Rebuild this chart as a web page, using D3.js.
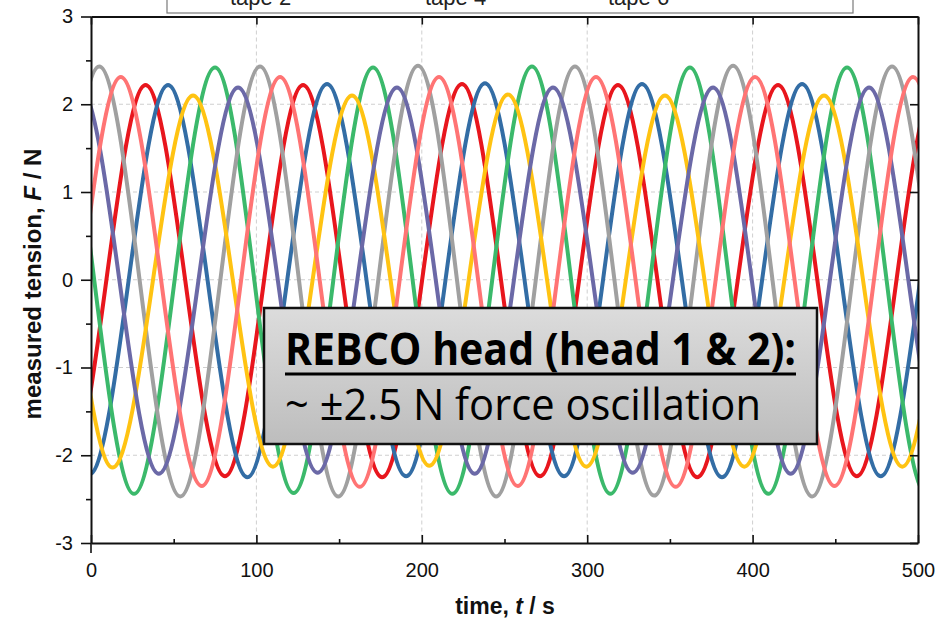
<!DOCTYPE html>
<html>
<head>
<meta charset="utf-8">
<script src="https://cdn.jsdelivr.net/npm/d3@7"></script>
<style>
  body { margin: 0; background: #fff; }
  svg { display: block; font-family: "Liberation Sans", Arial, sans-serif; }
</style>
</head>
<body>
<div id="chart"></div>
<script>
// extrema (time s, force N), alternating peak / trough
var tape1 = [[-62, 2.22], [-14.5, -2.24], [33, 2.22], [81, -2.24], [128.2, 2.22], [176, -2.25], [224.3, 2.23], [271.5, -2.24], [318.6, 2.22], [366.5, -2.25], [415.4, 2.22], [463, -2.24], [510.9, 2.22], [558.5, -2.24]];
var tape2 = [[-48.5, 2.22], [-1, -2.22], [46.6, 2.22], [94.5, -2.25], [142.7, 2.23], [190.5, -2.24], [238.2, 2.24], [286, -2.24], [333.1, 2.23], [381.5, -2.25], [429.9, 2.23], [477.5, -2.24], [525, 2.22], [573, -2.24]];
var tape3 = [[-70, -2.44], [-22, 2.42], [26, -2.44], [75, 2.42], [122.5, -2.43], [170.5, 2.42], [218.5, -2.44], [266.6, 2.43], [314, -2.44], [362.1, 2.42], [409.5, -2.44], [457.1, 2.42], [505, -2.44], [552.5, 2.42], [600, -2.44]];
var tape4 = [[-91, 2.43], [-43, -2.46], [5, 2.43], [54, -2.47], [102.2, 2.43], [149.5, -2.47], [197.7, 2.44], [245, -2.47], [292.6, 2.43], [340.5, -2.46], [388.2, 2.44], [436, -2.47], [484.3, 2.43], [532, -2.46], [580, 2.43]];
var tape5 = [[-81, -2.13], [-34, 2.1], [13, -2.14], [61.7, 2.1], [110, -2.13], [157.8, 2.1], [204.5, -2.12], [252.1, 2.11], [299.5, -2.13], [347, 2.1], [395, -2.13], [443.2, 2.1], [490.5, -2.13], [538, 2.1], [586, -2.13]];
var tape6 = [[-54, -2.2], [-6.6, 2.19], [41, -2.21], [88.9, 2.19], [137, -2.2], [185, 2.19], [232, -2.21], [279.3, 2.19], [327.5, -2.2], [376.1, 2.19], [423, -2.21], [470.4, 2.19], [518, -2.2], [566, 2.19]];
var tape7 = [[-78, 2.31], [-30, -2.35], [18, 2.31], [67, -2.35], [114.3, 2.31], [162.5, -2.36], [210.4, 2.31], [258, -2.35], [305.3, 2.31], [353.5, -2.36], [401.5, 2.31], [449.5, -2.35], [497, 2.31], [545, -2.35], [592, 2.31]];

var tapeNames = ["tape 1", "tape 2", "tape 3", "tape 4", "tape 5", "tape 6", "tape 7"];
var tapeColors = ["#e8161d", "#336da5", "#3bb96b", "#a0a0a0", "#ffc312", "#6b69a7", "#ff7474"];
var xTicks = [0, 100, 200, 300, 400, 500];
var yTicks = [-3, -2, -1, 0, 1, 2, 3];

function init() {
  var w = 945, h = 623;
  var left = 91, right = 918, top = 16.5, bottom = 543;
  var series = [tape1, tape2, tape3, tape4, tape5, tape6, tape7];

  var x = d3.scaleLinear().domain([0, 500]).range([left, right]);
  var y = d3.scaleLinear().domain([-3, 3]).range([bottom, top]);

  var svg = d3.select("#chart").append("svg")
    .attr("width", w)
    .attr("height", h);

  var defs = svg.append("defs");
  defs.append("clipPath").attr("id", "plot")
    .append("rect")
    .attr("x", left).attr("y", top)
    .attr("width", right - left).attr("height", bottom - top);
  var grad = defs.append("linearGradient").attr("id", "boxfill")
    .attr("x1", 0).attr("y1", 0).attr("x2", 0).attr("y2", 1);
  grad.append("stop").attr("offset", "0%").attr("stop-color", "#dcdcdc");
  grad.append("stop").attr("offset", "100%").attr("stop-color", "#bdbdbd");

  // grid
  svg.append("g").selectAll("line")
    .data(xTicks.slice(1, -1))
    .enter().append("line")
    .attr("x1", function(d) { return x(d); })
    .attr("x2", function(d) { return x(d); })
    .attr("y1", top).attr("y2", bottom)
    .attr("stroke", "#cfcfcf").attr("stroke-dasharray", "4,3");
  svg.append("g").selectAll("line")
    .data(yTicks.slice(1, -1))
    .enter().append("line")
    .attr("y1", function(d) { return y(d); })
    .attr("y2", function(d) { return y(d); })
    .attr("x1", left).attr("x2", right)
    .attr("stroke", "#cfcfcf").attr("stroke-dasharray", "4,3");

  // traces
  var line = d3.line()
    .x(function(d) { return x(d[0]); })
    .y(function(d) { return y(d[1]); })
    .curve(d3.curveMonotoneX);

  svg.append("g").attr("clip-path", "url(#plot)")
    .selectAll("path")
    .data(series)
    .enter().append("path")
    .attr("d", line)
    .attr("fill", "none")
    .attr("stroke", function(d, i) { return tapeColors[i]; })
    .attr("stroke-width", 4)
    .attr("stroke-linejoin", "round");

  // axes
  var fmt = function(d) { return String(d); };
  svg.append("g").attr("transform", "translate(" + left + ",0)")
    .call(d3.axisLeft(y).tickValues(yTicks).tickSize(10).tickSizeOuter(0).tickPadding(8).tickFormat(fmt));
  svg.append("g").attr("transform", "translate(" + left + ",0)")
    .call(d3.axisLeft(y).tickValues([-2.5, -1.5, -0.5, 0.5, 1.5, 2.5]).tickSize(5).tickFormat(""))
    .select(".domain").remove();

  svg.append("g").attr("transform", "translate(0," + bottom + ")")
    .call(d3.axisBottom(x).tickValues(xTicks).tickSizeInner(-8).tickSizeOuter(0).tickPadding(20).tickFormat(fmt));
  svg.append("g").attr("transform", "translate(0," + bottom + ")")
    .call(d3.axisBottom(x).tickValues([50, 150, 250, 350, 450]).tickSize(-4).tickFormat(""))
    .select(".domain").remove();

  svg.append("g").attr("transform", "translate(0," + top + ")")
    .call(d3.axisTop(x).tickValues(xTicks).tickSizeInner(-8).tickSizeOuter(0).tickFormat(""));
  svg.append("g").attr("transform", "translate(" + right + ",0)")
    .call(d3.axisRight(y).tickValues(yTicks).tickSizeInner(-8).tickSizeOuter(0).tickFormat(""));

  svg.selectAll(".domain").attr("stroke", "#111").attr("stroke-width", 2);
  svg.selectAll(".tick line").attr("stroke", "#111").attr("stroke-width", 1.6);
  svg.selectAll(".tick text").attr("font-size", 20).attr("fill", "#111")
    .attr("font-family", "'Liberation Sans', Arial, sans-serif");
  // short stub of the left spine below the frame
  svg.append("line").attr("x1", left).attr("x2", left)
    .attr("y1", bottom).attr("y2", bottom + 10)
    .attr("stroke", "#111").attr("stroke-width", 1.6);

  // axis titles
  var xt = svg.append("text")
    .attr("x", 505).attr("y", 614)
    .attr("text-anchor", "middle")
    .attr("font-size", 23).attr("font-weight", "bold").attr("fill", "#111");
  xt.append("tspan").text("time, ");
  xt.append("tspan").attr("font-style", "italic").text("t");
  xt.append("tspan").text(" / s");

  var yt = svg.append("text")
    .attr("transform", "translate(41,284) rotate(-90)")
    .attr("text-anchor", "middle")
    .attr("font-size", 24).attr("font-weight", "bold").attr("fill", "#111");
  yt.append("tspan").text("measured tension, ");
  yt.append("tspan").attr("font-style", "italic").text("F");
  yt.append("tspan").text(" / N");

  // legend, mostly above the visible area
  var lg = svg.append("g");
  lg.append("rect")
    .attr("x", 167).attr("y", -70)
    .attr("width", 686).attr("height", 83)
    .attr("fill", "#fff").attr("stroke", "#7a7a7a").attr("stroke-width", 1.2);
  var colX = [230, 425, 608, 790];
  var items = lg.selectAll("g.item")
    .data(tapeNames)
    .enter().append("g").attr("class", "item")
    .attr("transform", function(d, i) {
      var col = Math.floor(i / 2), row = i % 2;
      return "translate(" + colX[col] + "," + (row === 1 ? 5 : -21) + ")";
    });
  items.append("line")
    .attr("x1", -42).attr("x2", -10).attr("y1", -9).attr("y2", -9)
    .attr("stroke", function(d, i) { return tapeColors[i]; })
    .attr("stroke-width", 3);
  items.append("text")
    .attr("font-size", 22).attr("fill", "#222")
    .text(function(d) { return d; });

  // annotation box
  var note = svg.append("g");
  note.append("rect")
    .attr("x", 264).attr("y", 308)
    .attr("width", 553).attr("height", 136)
    .attr("fill", "url(#boxfill)")
    .attr("stroke", "#111").attr("stroke-width", 2.5);
  note.append("text")
    .attr("x", 285).attr("y", 365)
    .attr("font-family", "'Open Sans', 'Noto Sans', sans-serif")
    .attr("font-size", 45).attr("font-weight", "bold").attr("fill", "#000")
    .attr("textLength", 511).attr("lengthAdjust", "spacingAndGlyphs")
    .text("REBCO head (head 1 & 2):");
  note.append("line")
    .attr("x1", 285).attr("x2", 796).attr("y1", 374).attr("y2", 374)
    .attr("stroke", "#000").attr("stroke-width", 3);
  note.append("text")
    .attr("x", 285).attr("y", 420)
    .attr("font-family", "'Open Sans', 'Noto Sans', sans-serif")
    .attr("font-size", 43).attr("fill", "#000")
    .attr("textLength", 476).attr("lengthAdjust", "spacingAndGlyphs")
    .text("~ ±2.5 N force oscillation");
}

window.onload = init;
</script>
</body>
</html>
